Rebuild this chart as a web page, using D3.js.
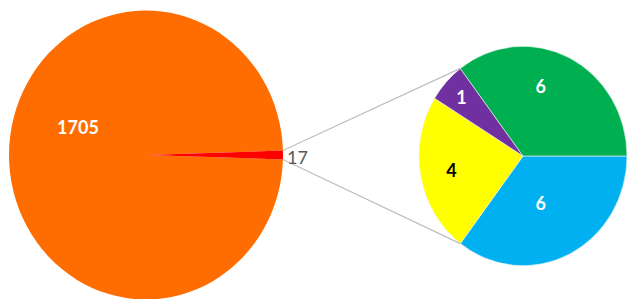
<!DOCTYPE html>
<html>
<head>
<meta charset="utf-8">
<script src="https://cdn.jsdelivr.net/npm/d3@7"></script>
<style>
  body { margin: 0; background: #fff; }
  svg { display: block; font-family: "Lato", "Noto Sans", sans-serif; }
</style>
</head>
<body>
<svg id="chart" width="627" height="299"></svg>
<script>
"use strict";

// main pie: everything vs the "other" slice that is split out
const mainLabels = ["Rest", "Other"];
const mainValues = [1705, 17];
const mainColors = ["#FF6D00", "#FF0000"];

// secondary pie (the 17 split up), clockwise from 3 o'clock
const subLabels = ["B", "C", "D", "A"];
const subValues = [6, 4, 1, 6];
const subColors = ["#00B0F0", "#FFFF00", "#7030A0", "#00B050"];
const subTextColors = ["#fff", "#000", "#fff", "#fff"];

const width = 627;
const height = 299;

// geometry (picture is a bit stretched vertically)
const mainCx = 146, mainCy = 155, mainR = 137;
const subCx = 523, subCy = 156, subR = 104;
const stretch = 1.055;

const svg = d3.select("#chart");

// ---- main pie ----
const mainOther = mainValues[1] / d3.sum(mainValues) * 2 * Math.PI;
const mainPie = d3.pie().sort(null)
  .startAngle(Math.PI / 2 + mainOther / 2)
  .endAngle(Math.PI / 2 + mainOther / 2 + 2 * Math.PI);
const mainArcs = mainPie(mainValues);
const mainArc = d3.arc().innerRadius(0).outerRadius(mainR);

const gMain = svg.append("g")
  .attr("transform", `translate(${mainCx},${mainCy}) scale(1,${stretch})`);

gMain.selectAll("path")
  .data(mainArcs)
  .enter()
  .append("path")
  .attr("d", mainArc)
  .attr("fill", (d, i) => mainColors[i]);

// ---- sub pie ----
const subPie = d3.pie().sort(null)
  .startAngle(Math.PI / 2)
  .endAngle(Math.PI / 2 + 2 * Math.PI);
const subArcs = subPie(subValues);
const subArc = d3.arc().innerRadius(0).outerRadius(subR);

const gSub = svg.append("g")
  .attr("transform", `translate(${subCx},${subCy}) scale(1,${stretch})`);

gSub.selectAll("path")
  .data(subArcs)
  .enter()
  .append("path")
  .attr("d", subArc)
  .attr("fill", (d, i) => subColors[i])
  .attr("stroke", "#f4f4f4")
  .attr("stroke-width", 0.6);

// point on an arc edge -> page coords
function edgePoint(cx, cy, r, a) {
  return [cx + r * Math.sin(a), cy - r * Math.cos(a) * stretch];
}

// ---- connector lines ----
const otherArc = mainArcs[1];
const topSub = edgePoint(subCx, subCy, subR, subArcs[3].startAngle);
const botSub = edgePoint(subCx, subCy, subR, subArcs[1].startAngle);
const topMain = edgePoint(mainCx, mainCy, mainR, otherArc.startAngle);
const botMain = edgePoint(mainCx, mainCy, mainR, otherArc.endAngle);

svg.append("g")
  .selectAll("line")
  .data([[topMain, topSub], [botMain, botSub]])
  .enter()
  .append("line")
  .attr("x1", (d) => d[0][0])
  .attr("y1", (d) => d[0][1])
  .attr("x2", (d) => d[1][0])
  .attr("y2", (d) => d[1][1])
  .attr("stroke", "#BFBFBF")
  .attr("stroke-width", 1.3);

// ---- labels ----
// 1705 sits up-left inside the big slice, 17 just outside the rim
svg.append("text")
  .attr("x", mainCx - 68)
  .attr("y", mainCy - 28)
  .attr("text-anchor", "middle")
  .attr("dominant-baseline", "central")
  .attr("font-size", 18)
  .attr("font-weight", "bold")
  .attr("fill", "#fff")
  .text(mainValues[0]);

svg.append("text")
  .attr("x", mainCx + mainR + 4)
  .attr("y", mainCy + 2)
  .attr("dominant-baseline", "central")
  .attr("font-size", 18)
  .attr("fill", "#595959")
  .text(mainValues[1]);

const labelFrac = [0.46, 0.7, 0.8, 0.66]; // how far out each label sits
const labelTurn = [0.08, 0, 0, -0.2]; // small angle nudges
svg.append("g")
  .selectAll("text")
  .data(subArcs)
  .enter()
  .append("text")
  .attr("transform", (d, i) => {
    let a = (d.startAngle + d.endAngle) / 2 + labelTurn[i];
    let p = edgePoint(subCx, subCy, subR * labelFrac[i], a);
    return `translate(${p[0]},${p[1]})`;
  })
  .attr("text-anchor", "middle")
  .attr("dominant-baseline", "central")
  .attr("font-size", 18)
  .attr("font-weight", "bold")
  .attr("fill", (d, i) => subTextColors[i])
  .text((d) => d.data);
</script>
</body>
</html>
